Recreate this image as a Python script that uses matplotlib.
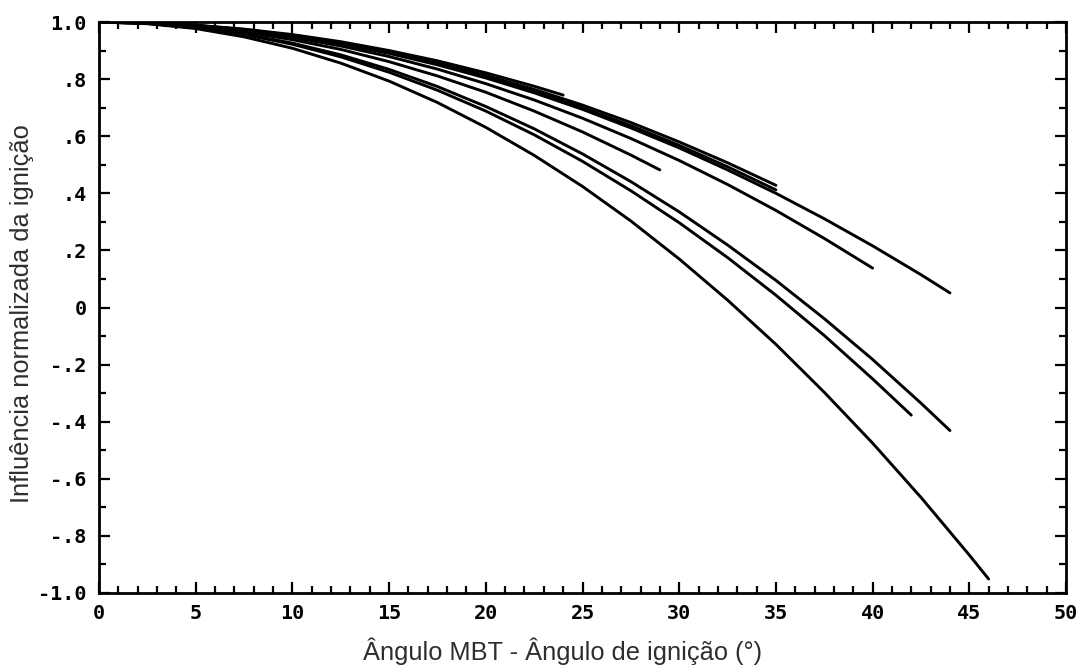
import matplotlib
matplotlib.use("Agg")
import matplotlib.pyplot as plt
from matplotlib.ticker import MultipleLocator, FixedLocator

# Spark-advance curves: normalised ignition influence vs (MBT angle - ignition angle)
x_a = [0, 2.5, 5, 7.5, 10, 12.5, 15, 17.5, 20, 22.5, 24]
y_a = [1.000, 0.997, 0.989, 0.975, 0.956, 0.931, 0.900, 0.864, 0.822, 0.775, 0.744]

x_b = [0, 2.5, 5, 7.5, 10, 12.5, 15, 17.5, 20, 22.5, 25, 27.5, 30, 32.5, 35]
y_b = [1.000, 0.997, 0.988, 0.973, 0.952, 0.925, 0.892, 0.853, 0.808, 0.757, 0.700, 0.637, 0.568, 0.493, 0.412]

x_c = [0, 2.5, 5, 7.5, 10, 12.5, 15, 17.5, 20, 22.5, 25, 27.5, 30, 32.5, 35]
y_c = [1.000, 0.997, 0.988, 0.974, 0.953, 0.927, 0.895, 0.857, 0.813, 0.764, 0.709, 0.648, 0.580, 0.507, 0.428]

x_d = [0, 2.5, 5, 7.5, 10, 12.5, 15, 17.5, 20, 22.5, 25, 27.5, 30, 32.5, 35, 37.5, 40, 42.5, 44]
y_d = [1.000, 0.997, 0.988, 0.972, 0.951, 0.923, 0.890, 0.850, 0.804, 0.752, 0.694, 0.629, 0.559, 0.482, 0.400, 0.311, 0.216, 0.115, 0.051]

x_e = [0, 2.5, 5, 7.5, 10, 12.5, 15, 17.5, 20, 22.5, 25, 27.5, 30, 32.5, 35, 37.5, 40]
y_e = [1.000, 0.997, 0.987, 0.970, 0.946, 0.916, 0.879, 0.835, 0.784, 0.727, 0.663, 0.592, 0.515, 0.431, 0.340, 0.242, 0.138]

x_f = [0, 2.5, 5, 7.5, 10, 12.5, 15, 17.5, 20, 22.5, 25, 27.5, 29]
y_f = [1.000, 0.996, 0.985, 0.965, 0.938, 0.904, 0.861, 0.811, 0.754, 0.688, 0.615, 0.534, 0.482]

x_g = [0, 2.5, 5, 7.5, 10, 12.5, 15, 17.5, 20, 22.5, 25, 27.5, 30, 32.5, 35, 37.5, 40, 42]
y_g = [1.000, 0.995, 0.980, 0.956, 0.922, 0.878, 0.824, 0.761, 0.688, 0.605, 0.512, 0.409, 0.297, 0.175, 0.043, -0.098, -0.250, -0.377]

x_h = [0, 2.5, 5, 7.5, 10, 12.5, 15, 17.5, 20, 22.5, 25, 27.5, 30, 32.5, 35, 37.5, 40, 42.5, 44]
y_h = [1.000, 0.995, 0.982, 0.958, 0.926, 0.885, 0.834, 0.774, 0.704, 0.626, 0.538, 0.441, 0.335, 0.219, 0.095, -0.039, -0.182, -0.335, -0.431]

x_i = [0, 2.5, 5, 7.5, 10, 12.5, 15, 17.5, 20, 22.5, 25, 27.5, 30, 32.5, 35, 37.5, 40, 42.5, 45, 46]
y_i = [1.000, 0.994, 0.977, 0.948, 0.908, 0.856, 0.793, 0.718, 0.631, 0.533, 0.424, 0.303, 0.170, 0.026, -0.129, -0.297, -0.475, -0.665, -0.867, -0.951]

curves = [(x_a, y_a), (x_b, y_b), (x_c, y_c), (x_d, y_d), (x_e, y_e),
          (x_f, y_f), (x_g, y_g), (x_h, y_h), (x_i, y_i)]

x_ticks = [0, 5, 10, 15, 20, 25, 30, 35, 40, 45, 50]
y_ticks = [-1.0, -0.8, -0.6, -0.4, -0.2, 0.0, 0.2, 0.4, 0.6, 0.8, 1.0]
y_tick_labels = ["-1.0", "-.8", "-.6", "-.4", "-.2", "0", ".2", ".4", ".6", ".8", "1.0"]

x_label = "Ângulo MBT - Ângulo de ignição (°)"
y_label = "Influência normalizada da ignição"

fig = plt.figure(figsize=(10.8, 6.66), dpi=100)
ax = fig.add_axes([99 / 1080, 1 - 593 / 666, (1066 - 99) / 1080, (593 - 22) / 666])

for xs, ys in curves:
    ax.plot(xs, ys, color="black", lw=2.1, solid_capstyle="round",
            solid_joinstyle="round")

ax.set_xlim(0, 50)
ax.set_ylim(-1.0, 1.0)

ax.xaxis.set_major_locator(FixedLocator(x_ticks))
ax.xaxis.set_minor_locator(MultipleLocator(1))
ax.yaxis.set_major_locator(FixedLocator(y_ticks))
ax.yaxis.set_minor_locator(MultipleLocator(0.1))
ax.set_xticklabels([str(t) for t in x_ticks])
ax.set_yticklabels(y_tick_labels)

for lab in ax.get_xticklabels() + ax.get_yticklabels():
    lab.set_fontfamily("DejaVu Sans Mono")
    lab.set_fontweight("bold")
    lab.set_fontsize(14.5)

ax.tick_params(which="both", direction="in", top=True, right=True,
               color="black", width=1.6)
ax.tick_params(which="major", length=8, pad=8)
ax.tick_params(which="minor", length=5)
ax.tick_params(axis="y", which="major", pad=9)

for sp in ax.spines.values():
    sp.set_linewidth(2.0)
    sp.set_color("black")

label_font = dict(family="Liberation Sans", size=18.3, color="#2e2e2e")
fig.text(563 / 1080, 1 - 651 / 666, x_label, ha="center", va="center", **label_font)
fig.text(22 / 1080, 1 - 314 / 666, y_label, ha="center", va="center",
         rotation=90, **label_font)

fig.savefig("out.png", dpi=100, facecolor="white")
